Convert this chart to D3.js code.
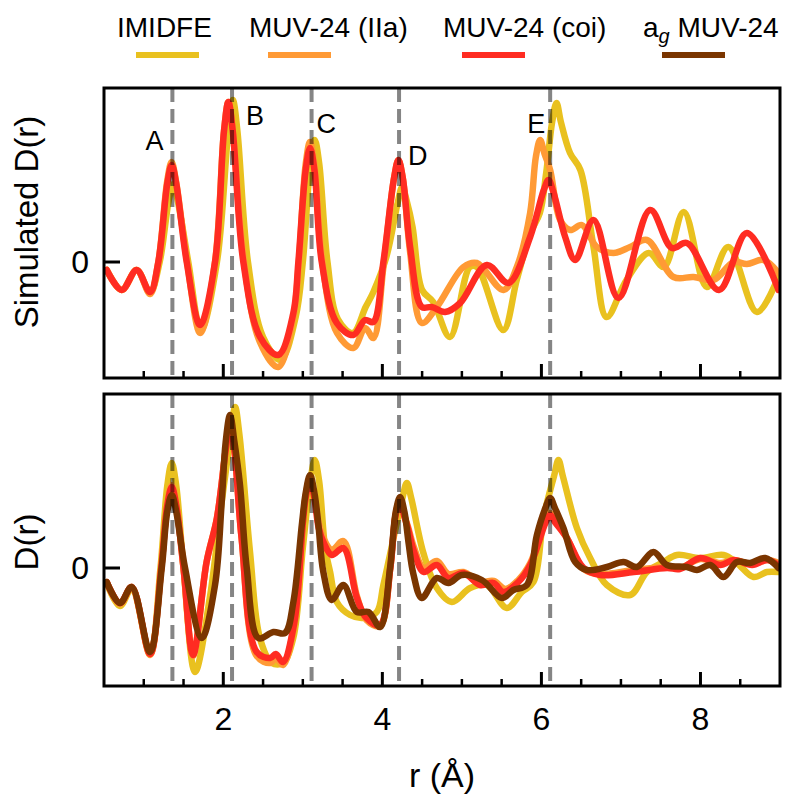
<!DOCTYPE html>
<html><head><meta charset="utf-8">
<script src="https://cdn.jsdelivr.net/npm/d3@7/dist/d3.min.js"></script>
<style>body{margin:0;background:#fff} text{font-family:"Liberation Sans",Arial,Helvetica,sans-serif;fill:#000}</style>
</head><body><svg id="c" width="785" height="795"></svg>
<script>
// ---------- data ----------
const xDomain = [0.5, 9];
const xMajorTicks = [2, 4, 6, 8];
const yTickLabels = ["0"];
const legendLabels = ["IMIDFE", "MUV-24 (IIa)", "MUV-24 (coi)", "a_g MUV-24"];
const peakNames = ["A", "B", "C", "D", "E"];
const peakR = [1.36, 2.11, 3.11, 4.21, 6.11];
const peakLabelD = [1.12, 1.37, 1.29, 0.97, 1.29];

// Top panel (simulated)
const simIMIDFE = [[0.534,-0.08],[0.723,-0.28],[0.911,-0.08],[1.079,-0.30],[1.20,0.0],[1.315,0.62],[1.37,0.78],[1.425,0.62],[1.56,0.0],[1.72,-0.68],[1.92,0.0],[2.065,1.33],[2.12,1.62],[2.175,1.33],[2.31,0.0],[2.50,-0.75],[2.72,-0.98],[2.91,-0.55],[3.00,0.0],[3.095,0.99],[3.15,1.22],[3.205,0.99],[3.31,0.0],[3.44,-0.57],[3.63,-0.71],[3.79,-0.45],[3.887,-0.30],[4.05,0.05],[4.195,0.60],[4.25,0.75],[4.31,0.60],[4.38,0.35],[4.50,-0.28],[4.64,-0.40],[4.85,-0.75],[5.10,-0.05],[5.19,-0.05],[5.52,-0.68],[5.69,-0.18],[5.86,0.29],[5.98,0.49],[6.06,0.89],[6.135,1.40],[6.19,1.59],[6.245,1.40],[6.36,1.09],[6.49,0.92],[6.655,0.15],[6.82,-0.55],[7.07,-0.18],[7.35,0.09],[7.54,-0.05],[7.79,0.50],[8.08,-0.25],[8.35,0.15],[8.71,-0.50],[8.98,-0.15]];
const simIIa = [[0.534,-0.08],[0.723,-0.28],[0.911,-0.08],[1.079,-0.32],[1.183,0.0],[1.295,0.81],[1.35,1.00],[1.405,0.81],[1.545,0.0],[1.71,-0.71],[1.896,0.0],[2.009,1.31],[2.064,1.60],[2.119,1.31],[2.26,0.0],[2.46,-0.80],[2.69,-1.05],[2.88,-0.55],[2.95,0.0],[3.035,0.97],[3.09,1.20],[3.145,0.97],[3.245,0.0],[3.43,-0.71],[3.636,-0.86],[3.783,-0.66],[3.887,-0.76],[4.013,-0.05],[4.147,0.84],[4.202,1.02],[4.257,0.84],[4.349,0.10],[4.496,-0.61],[4.685,-0.45],[5.02,-0.05],[5.188,-0.01],[5.523,-0.28],[5.691,-0.05],[5.858,0.49],[5.93,1.05],[5.984,1.22],[6.04,1.08],[6.11,0.92],[6.236,0.42],[6.362,0.32],[6.509,0.37],[6.697,0.15],[6.906,0.09],[7.116,0.15],[7.326,0.22],[7.661,-0.15],[7.913,-0.15],[8.164,-0.18],[8.416,0.0],[8.584,-0.02],[8.793,0.02],[8.98,-0.11]];
const simCoi = [[0.534,-0.08],[0.723,-0.28],[0.911,-0.08],[1.079,-0.30],[1.183,0.0],[1.297,0.79],[1.352,0.97],[1.407,0.79],[1.54,0.0],[1.708,-0.63],[1.896,0.0],[2.009,1.31],[2.064,1.60],[2.119,1.31],[2.252,0.0],[2.462,-0.75],[2.692,-0.93],[2.881,-0.51],[2.944,0.0],[3.036,0.92],[3.091,1.14],[3.146,0.92],[3.238,0.0],[3.427,-0.61],[3.636,-0.73],[3.783,-0.58],[3.887,-0.60],[4.013,0.0],[4.147,0.84],[4.202,1.02],[4.257,0.84],[4.349,0.15],[4.496,-0.45],[4.622,-0.45],[4.789,-0.50],[4.978,-0.41],[5.314,-0.03],[5.586,-0.21],[5.858,0.25],[6.03,0.72],[6.089,0.82],[6.15,0.70],[6.299,0.25],[6.425,0.02],[6.655,0.42],[6.969,-0.36],[7.368,0.52],[7.641,0.14],[7.830,0.19],[8.233,-0.28],[8.584,0.29],[8.982,-0.28]];

// Bottom panel (experimental)
const expIMIDFE = [[0.534,-0.15],[0.701,-0.38],[0.848,-0.21],[1.079,-0.86],[1.21,0.0],[1.297,0.83],[1.352,1.05],[1.407,0.83],[1.50,0.0],[1.645,-1.04],[1.83,-0.30],[1.98,0.66],[2.093,1.33],[2.148,1.61],[2.203,1.33],[2.336,0.16],[2.46,-0.70],[2.61,-0.95],[2.75,-0.95],[2.88,-0.70],[3.00,0.20],[3.095,0.87],[3.15,1.08],[3.205,0.87],[3.28,0.20],[3.343,-0.04],[3.427,-0.34],[3.594,-0.47],[3.762,-0.50],[3.93,-0.44],[4.013,-0.17],[4.253,0.70],[4.308,0.85],[4.363,0.70],[4.516,0.15],[4.685,-0.20],[4.874,-0.34],[5.104,-0.20],[5.314,-0.17],[5.565,-0.40],[5.754,-0.24],[5.90,-0.14],[6.026,0.50],[6.159,0.92],[6.214,1.08],[6.269,0.92],[6.446,0.40],[6.613,0.10],[6.823,-0.17],[7.116,-0.27],[7.326,-0.04],[7.535,0.06],[7.704,0.13],[7.997,0.10],[8.29,0.13],[8.458,0.05],[8.667,-0.09],[8.836,-0.04],[8.98,-0.04]];
const expIIa = [[0.534,-0.14],[0.701,-0.36],[0.848,-0.19],[1.079,-0.87],[1.22,0.0],[1.297,0.65],[1.352,0.83],[1.407,0.65],[1.50,0.0],[1.62,-0.88],[1.79,0.06],[1.92,0.50],[2.03,1.18],[2.085,1.45],[2.14,1.18],[2.23,0.30],[2.42,-0.88],[2.59,-0.95],[2.66,-0.90],[2.75,-0.97],[2.89,-0.58],[3.0,0.45],[3.035,0.72],[3.09,0.90],[3.145,0.72],[3.20,0.45],[3.258,0.30],[3.364,0.18],[3.51,0.27],[3.68,-0.28],[3.80,-0.52],[3.97,-0.58],[4.10,0.0],[4.165,0.53],[4.22,0.68],[4.275,0.53],[4.32,0.42],[4.40,0.20],[4.52,0.0],[4.685,0.07],[4.83,-0.06],[5.02,-0.04],[5.23,-0.14],[5.40,-0.13],[5.55,-0.21],[5.71,-0.12],[5.86,0.05],[6.05,0.47],[6.11,0.55],[6.17,0.48],[6.32,0.30],[6.53,-0.01],[6.74,-0.06],[7.16,-0.02],[7.58,0.01],[7.74,0.0],[8.0,0.09],[8.25,0.05],[8.42,0.08],[8.65,0.04],[8.84,0.08],[8.98,0.05]];
const expCoi = [[0.534,-0.14],[0.701,-0.35],[0.848,-0.19],[1.079,-0.86],[1.22,0.0],[1.297,0.63],[1.352,0.81],[1.407,0.63],[1.50,0.0],[1.62,-0.87],[1.79,0.06],[1.92,0.50],[2.03,1.18],[2.085,1.45],[2.14,1.18],[2.23,0.30],[2.42,-0.84],[2.59,-0.90],[2.66,-0.86],[2.75,-0.94],[2.89,-0.56],[3.0,0.45],[3.035,0.70],[3.09,0.88],[3.145,0.70],[3.20,0.40],[3.258,0.26],[3.364,0.13],[3.51,0.20],[3.68,-0.30],[3.80,-0.50],[3.97,-0.57],[4.10,0.0],[4.165,0.52],[4.22,0.67],[4.275,0.52],[4.32,0.40],[4.40,0.16],[4.52,-0.04],[4.685,0.03],[4.83,-0.10],[5.02,-0.05],[5.23,-0.17],[5.40,-0.15],[5.52,-0.24],[5.71,-0.14],[5.86,0.03],[6.05,0.45],[6.11,0.53],[6.17,0.46],[6.32,0.30],[6.53,0.0],[6.74,-0.07],[7.16,-0.04],[7.58,0.0],[7.74,-0.01],[8.0,0.10],[8.25,0.03],[8.42,0.08],[8.65,0.03],[8.84,0.08],[8.98,0.03]];
const expAg = [[0.534,-0.14],[0.701,-0.35],[0.848,-0.19],[1.079,-0.84],[1.226,0.0],[1.297,0.57],[1.352,0.73],[1.407,0.57],[1.519,0.0],[1.729,-0.70],[1.896,-0.17],[1.98,0.66],[2.03,1.26],[2.085,1.53],[2.14,1.26],[2.21,0.83],[2.295,0.0],[2.441,-0.70],[2.63,-0.64],[2.777,-0.65],[2.881,-0.34],[2.99,0.45],[3.036,0.75],[3.091,0.93],[3.146,0.75],[3.196,0.43],[3.258,-0.04],[3.364,-0.32],[3.51,-0.17],[3.679,-0.44],[3.825,-0.44],[3.972,-0.59],[4.097,0.0],[4.168,0.56],[4.223,0.71],[4.278,0.56],[4.33,0.25],[4.39,-0.06],[4.496,-0.30],[4.685,-0.10],[4.831,-0.15],[4.999,-0.07],[5.251,-0.12],[5.503,-0.30],[5.648,-0.22],[5.817,-0.17],[5.943,0.33],[6.05,0.60],[6.11,0.70],[6.17,0.60],[6.277,0.40],[6.425,0.06],[6.572,-0.02],[6.823,0.01],[7.032,0.06],[7.201,0.01],[7.409,0.16],[7.578,0.03],[7.83,0.01],[7.955,-0.02],[8.123,0.03],[8.29,-0.09],[8.458,0.06],[8.626,0.05],[8.814,0.10],[8.982,0.0]];

// ---------- drawing ----------
const colors = ["#E9C11F", "#FF9A35", "#FF2C22", "#7A3500"];
const svg = d3.select("#c");
const x = d3.scaleLinear().domain(xDomain).range([104, 780]);

const panels = [
  {top: 88, bottom: 378, yDomain: [-1.16, 1.74], series: [simIMIDFE, simIIa, simCoi], colorIdx: [0,1,2], label: "Simulated D(r)", labelY: 222, labels: true, xLabels: false},
  {top: 394, bottom: 686, yDomain: [-1.18, 1.74], series: [expIMIDFE, expIIa, expCoi, expAg], colorIdx: [0,1,2,3], label: "D(r)", labelY: 542, labels: false, xLabels: true}
];

const defs = svg.append("defs");

panels.forEach((p, pi) => {
  const y = d3.scaleLinear().domain(p.yDomain).range([p.bottom, p.top]);
  const g = svg.append("g");
  defs.append("clipPath").attr("id", "clip" + pi).append("rect")
    .attr("x", x.range()[0]).attr("y", p.top).attr("width", x.range()[1] - x.range()[0]).attr("height", p.bottom - p.top);
  const line = d3.line().x(d => x(d[0])).y(d => y(d[1])).curve(d3.curveCatmullRom.alpha(0.5));
  const cg = g.append("g").attr("clip-path", `url(#clip${pi})`);
  p.series.forEach((s, i) => {
    cg.append("path").attr("d", line(s)).attr("fill", "none")
      .attr("stroke", colors[p.colorIdx[i]]).attr("stroke-width", 6.5)
      .attr("stroke-linejoin", "round").attr("stroke-linecap", "round");
  });
  // dashed reference lines
  cg.selectAll("line.ref").data(peakR).join("line").attr("class", "ref")
    .attr("x1", d => x(d)).attr("x2", d => x(d)).attr("y1", p.top).attr("y2", p.bottom)
    .attr("stroke", "#000").attr("stroke-opacity", 0.48).attr("stroke-width", 4)
    .attr("stroke-dasharray", "14,7");
  // peak labels
  if (p.labels) {
    const offs = [-9, 14, 5, 9, -5];
    g.selectAll("text.pk").data(peakNames).join("text").attr("class", "pk")
      .attr("x", (d, i) => x(peakR[i]) + offs[i]).attr("y", (d, i) => y(peakLabelD[i]))
      .attr("text-anchor", (d, i) => offs[i] < 0 ? "end" : "start")
      .attr("font-size", 27).text(d => d);
  }
  // x ticks
  const minor = d3.range(1, 9, 0.5).filter(v => !xMajorTicks.includes(v));
  g.selectAll("line.mn").data(minor).join("line")
    .attr("x1", d => x(d)).attr("x2", d => x(d)).attr("y1", p.bottom).attr("y2", p.bottom - 7)
    .attr("stroke", "#000").attr("stroke-width", 2.5);
  g.selectAll("line.mj").data(xMajorTicks).join("line")
    .attr("x1", d => x(d)).attr("x2", d => x(d)).attr("y1", p.bottom).attr("y2", p.bottom - 14)
    .attr("stroke", "#000").attr("stroke-width", 3);
  if (p.xLabels) {
    g.selectAll("text.xt").data(xMajorTicks).join("text")
      .attr("x", d => x(d)).attr("y", p.bottom + 44).attr("text-anchor", "middle")
      .attr("font-size", 32).text(d => d);
  }
  // y tick at zero
  g.append("line").attr("x1", x.range()[0]).attr("x2", x.range()[0] + 16)
    .attr("y1", y(0)).attr("y2", y(0)).attr("stroke", "#000").attr("stroke-width", 3);
  g.append("text").attr("x", 89).attr("y", y(0) + 11).attr("text-anchor", "end")
    .attr("font-size", 32).text(yTickLabels[0]);
  // frame
  g.append("rect").attr("x", x.range()[0]).attr("y", p.top)
    .attr("width", x.range()[1] - x.range()[0]).attr("height", p.bottom - p.top)
    .attr("fill", "none").attr("stroke", "#000").attr("stroke-width", 3);
  // y label
  g.append("text").attr("transform", `translate(38,${p.labelY}) rotate(-90)`)
    .attr("text-anchor", "middle").attr("font-size", 33).text(p.label);
});

// x label
svg.append("text").attr("x", (x.range()[0] + x.range()[1]) / 2).attr("y", 787)
  .attr("text-anchor", "middle").attr("font-size", 34).text("r (\u00C5)");

// legend
const legX = [117, 249, 443, 643];
const lg = svg.append("g");
legendLabels.forEach((l, i) => {
  const t = lg.append("text").attr("x", legX[i]).attr("y", 37).attr("font-size", 28);
  if (l.startsWith("a_g")) {
    t.append("tspan").text("a");
    t.append("tspan").attr("font-style", "italic").attr("font-size", 20).attr("dy", 6).text("g");
    t.append("tspan").attr("dy", -6).text(" MUV-24");
  } else t.text(l);
  lg.append("line").attr("x1", legX[i] + 19).attr("x2", legX[i] + 82).attr("y1", 55).attr("y2", 55)
    .attr("stroke", colors[i]).attr("stroke-width", 6);
});
</script></body></html>
